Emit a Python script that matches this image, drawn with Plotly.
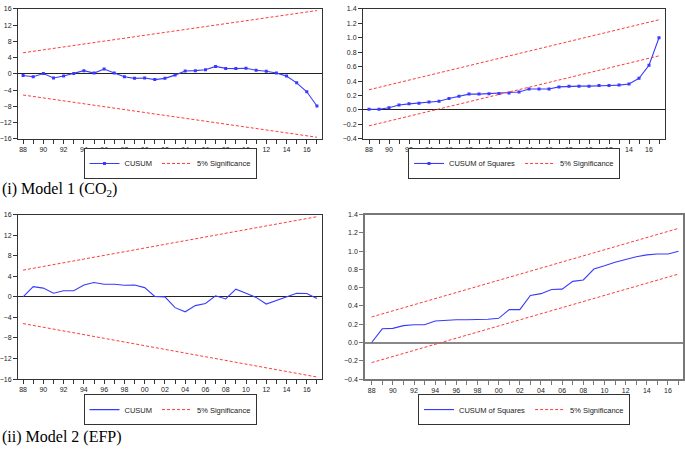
import plotly.graph_objects as go

# ---------------- data ----------------
years = list(range(1988, 2018))
tick_years = [1988, 1990, 1992, 1994, 1996, 1998, 2000, 2002, 2004, 2006, 2008, 2010, 2012, 2014, 2016]
tick_labels = ['88', '90', '92', '94', '96', '98', '00', '02', '04', '06', '08', '10', '12', '14', '16']
minor_years = [1989, 1991, 1993, 1995, 1997, 1999, 2001, 2003, 2005, 2007, 2009, 2011, 2013, 2015, 2017]

# Model 1 (CO2)
cusum_m1 = [-0.4, -0.7, 0.1, -1.0, -0.5, 0.1, 0.8, 0.2, 1.2, 0.2, -0.7, -1.1, -1.0, -1.4, -1.1,
            -0.3, 0.7, 0.8, 1.0, 1.85, 1.35, 1.3, 1.4, 0.9, 0.65, 0.2, -0.55, -2.2, -4.4, -7.9]
cusumsq_m1 = [0.01, 0.01, 0.03, 0.07, 0.085, 0.095, 0.11, 0.12, 0.16, 0.19, 0.22, 0.22, 0.225, 0.23, 0.235,
              0.25, 0.29, 0.29, 0.29, 0.32, 0.33, 0.33, 0.33, 0.34, 0.34, 0.345, 0.36, 0.44, 0.62, 1.0]

# Model 2 (EFP)
cusum_m2 = [0.0, 2.0, 1.7, 0.7, 1.2, 1.2, 2.3, 2.8, 2.45, 2.45, 2.25, 2.3, 1.8, 0.1, 0.0,
            -2.1, -2.9, -1.7, -1.3, 0.2, -0.4, 1.5, 0.7, -0.1, -1.4, -0.7, 0.1, 0.7, 0.65, -0.3]
cusumsq_m2 = [0.0, 0.15, 0.155, 0.185, 0.195, 0.195, 0.235, 0.245, 0.25, 0.25, 0.25, 0.255, 0.265, 0.36, 0.36,
              0.515, 0.535, 0.58, 0.585, 0.67, 0.685, 0.805, 0.84, 0.88, 0.91, 0.94, 0.96, 0.97, 0.97, 1.0]

# 5% significance bounds (start / end values of straight lines)
sig_years = [1988, 2017]
cusum_upper = [5.2, 15.6]
cusum_lower = [-5.2, -15.6]
cusumsq_upper = [0.28, 1.25]
cusumsq_lower = [-0.22, 0.75]

# ---------------- styling ----------------
W, H = 685, 449
BLUE = '#3a3aff'
RED = '#ff3b3b'
SANS = 'Liberation Sans, Arial, sans-serif'
SERIF = 'Liberation Serif, Times New Roman, serif'


def px_x(a, b):
    return [a / W, b / W]


def px_y(top, bottom):
    return [1 - bottom / H, 1 - top / H]


fig = go.Figure()


def add_panel(idx, yvals, name, markers, upper, lower, legend):
    xa = 'x' if idx == 1 else f'x{idx}'
    ya = 'y' if idx == 1 else f'y{idx}'
    fig.add_trace(go.Scatter(
        x=years, y=yvals, name=name, xaxis=xa, yaxis=ya, legend=legend,
        mode='lines+markers' if markers else 'lines',
        line=dict(color=BLUE, width=1.1),
        marker=dict(symbol='square', size=3, color=BLUE),
    ))
    fig.add_trace(go.Scatter(
        x=sig_years, y=upper, name='5% Significance', xaxis=xa, yaxis=ya, legend=legend,
        mode='lines', line=dict(color=RED, width=1, dash='3px,2px'),
    ))
    fig.add_trace(go.Scatter(
        x=sig_years, y=lower, name='5% Significance', xaxis=xa, yaxis=ya, legend=legend,
        mode='lines', line=dict(color=RED, width=1, dash='3px,2px'), showlegend=False,
    ))


add_panel(1, cusum_m1, 'CUSUM', True, cusum_upper, cusum_lower, 'legend')
add_panel(2, cusumsq_m1, 'CUSUM of Squares', True, cusumsq_upper, cusumsq_lower, 'legend2')
add_panel(3, cusum_m2, 'CUSUM', False, cusum_upper, cusum_lower, 'legend3')
add_panel(4, cusumsq_m2, 'CUSUM of Squares', False, cusumsq_upper, cusumsq_lower, 'legend4')


def xaxis(domain, anchor, rng, lc='#333', lw=1):
    return dict(domain=domain, anchor=anchor, range=rng, tickmode='array', tickvals=tick_years,
                ticktext=tick_labels, ticks='outside', ticklen=4, tickwidth=1, tickcolor=lc,
                minor=dict(tickmode='array', tickvals=minor_years, ticks='outside', ticklen=4,
                           tickwidth=1, tickcolor=lc, showgrid=False),
                showline=True, linecolor=lc, linewidth=lw, mirror=True, showgrid=False,
                zeroline=False, tickfont=dict(size=7, family=SANS, color='#222'))


def yaxis(domain, anchor, rng, dtick, fmt, lc='#333', lw=1, zc='#222', zw=1.2):
    return dict(domain=domain, anchor=anchor, range=rng, dtick=dtick, tick0=0, tickformat=fmt,
                ticks='outside', ticklen=4, tickwidth=1, tickcolor=lc,
                showline=True, linecolor=lc, linewidth=lw, mirror=True, showgrid=False,
                zeroline=True, zerolinecolor=zc, zerolinewidth=zw,
                tickfont=dict(size=7, family=SANS, color='#222'))


fig.update_layout(
    width=W, height=H, margin=dict(l=0, r=0, t=0, b=0),
    paper_bgcolor='white', plot_bgcolor='white',
    xaxis=xaxis(px_x(18, 322), 'y', [1987.5, 2017.5]),
    yaxis=yaxis(px_y(5, 137), 'x', [-16, 16], 4, 'd'),
    xaxis2=xaxis(px_x(363, 665), 'y2', [1987.4, 2017.6]),
    yaxis2=yaxis(px_y(5, 137), 'x2', [-0.4, 1.4], 0.2, '.1f'),
    xaxis3=xaxis(px_x(18, 322), 'y3', [1987.5, 2017.5]),
    yaxis3=yaxis(px_y(214, 381), 'x3', [-16, 16], 4, 'd'),
    xaxis4=xaxis(px_x(365, 683), 'y4', [1987.37, 2017.42], lc='#777', lw=1.5),
    yaxis4=yaxis(px_y(214, 381), 'x4', [-0.4, 1.4], 0.2, '.1f', lc='#777', lw=1.5, zc='#888', zw=2),
    showlegend=True,
)

leg_common = dict(orientation='h', xanchor='center', yanchor='middle', bordercolor='#333',
                  borderwidth=1, bgcolor='white', font=dict(size=7.5, family=SANS, color='#222'),
                  itemwidth=30, xref='paper', yref='paper')
fig.update_layout(
    legend=dict(x=170 / W, y=1 - 162 / H, **leg_common),
    legend2=dict(x=514 / W, y=1 - 162 / H, **leg_common),
    legend3=dict(x=170 / W, y=1 - 412 / H, **leg_common),
    legend4=dict(x=524 / W, y=1 - 412 / H, **leg_common),
)

fig.add_annotation(text='(i) Model 1 (CO<sub>2</sub>)', x=0, y=1 - 188 / H, xref='paper', yref='paper',
                   xanchor='left', yanchor='middle', showarrow=False,
                   font=dict(family=SERIF, size=16, color='black'))
fig.add_annotation(text='(ii) Model 2 (EFP)', x=0, y=1 - 440 / H, xref='paper', yref='paper',
                   xanchor='left', yanchor='middle', showarrow=False,
                   font=dict(family=SERIF, size=16, color='black'))

fig.write_html('out.html', config={'displayModeBar': False},
               post_script="document.body.style.margin='0';document.body.style.overflow='hidden';")
